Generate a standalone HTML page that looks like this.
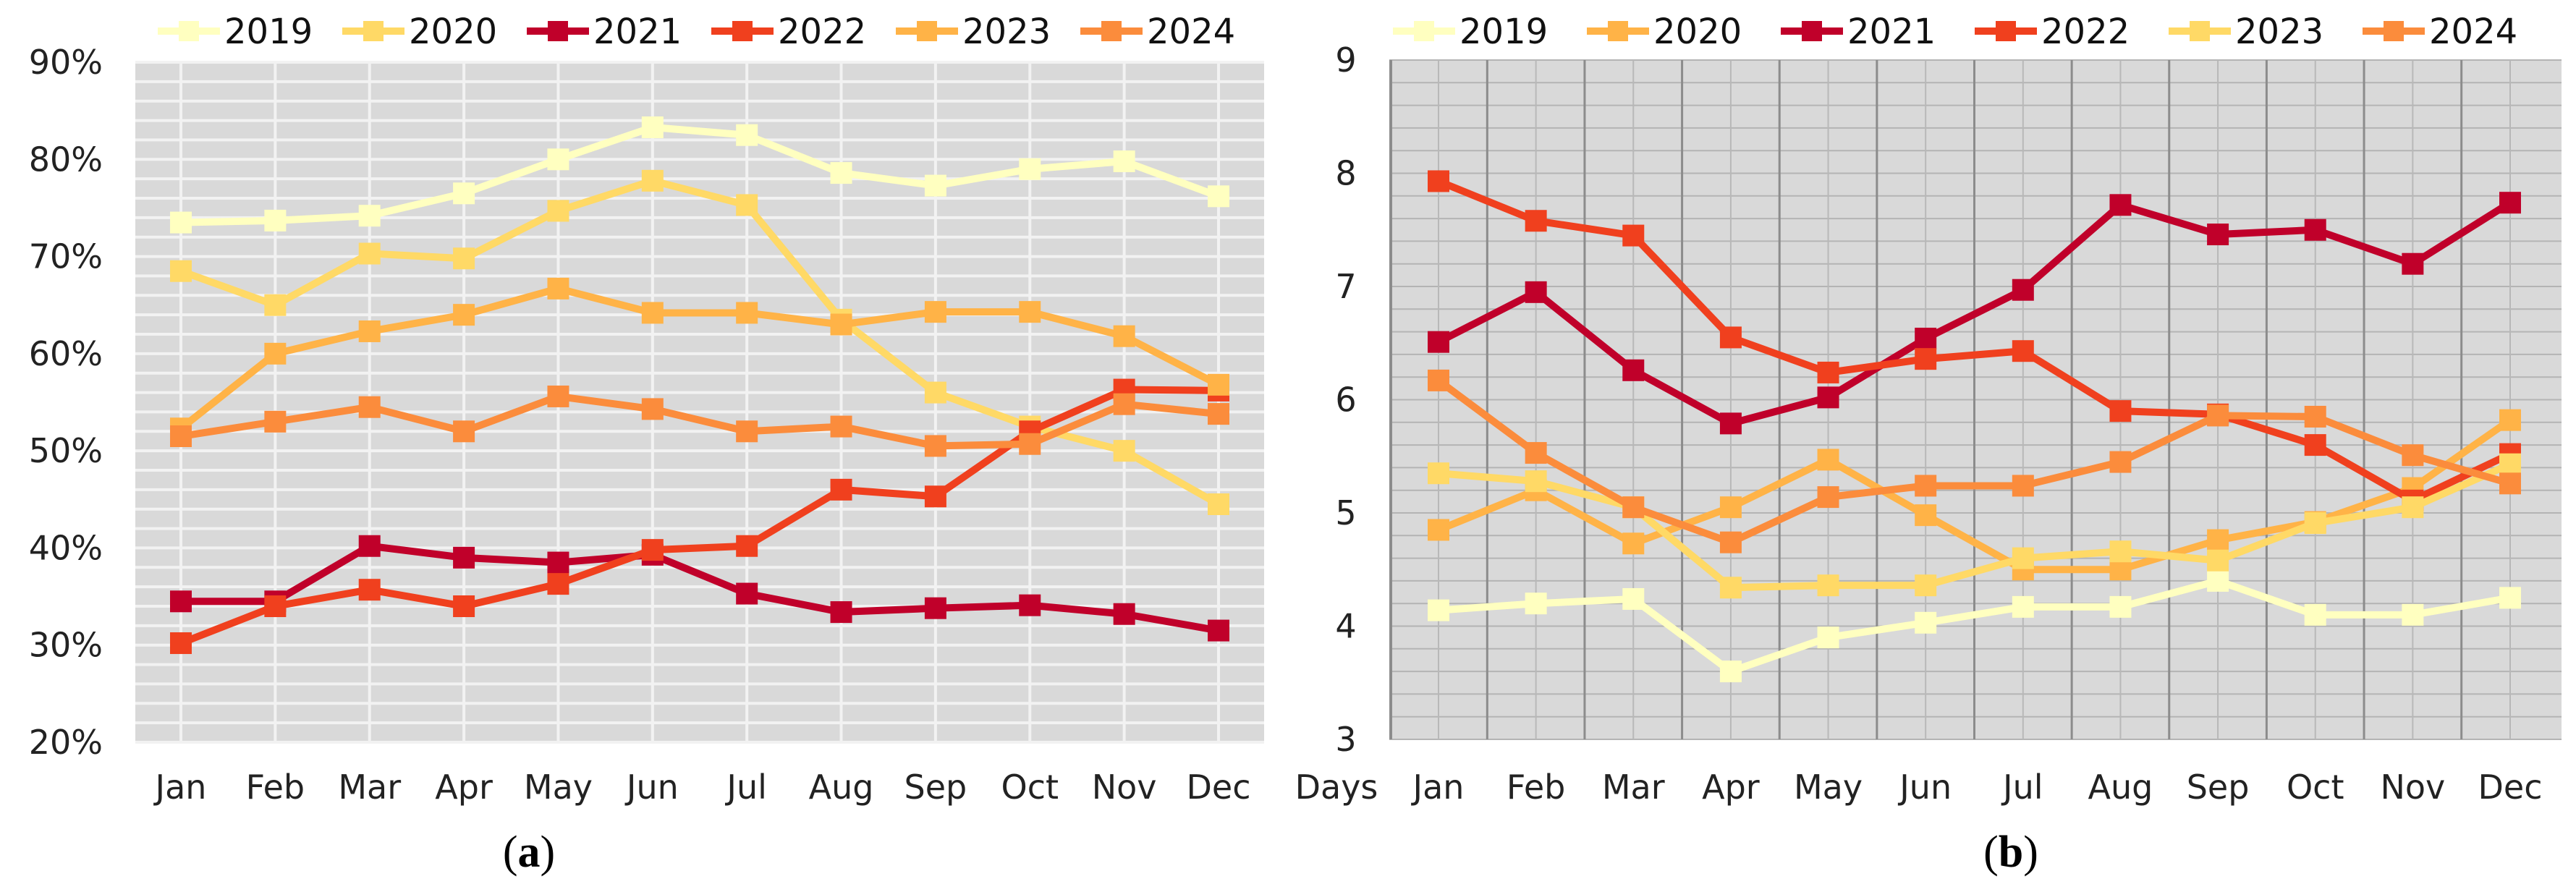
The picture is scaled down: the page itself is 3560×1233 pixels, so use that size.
<!DOCTYPE html>
<html><head><meta charset="utf-8"><style>
html,body{margin:0;padding:0;background:#fff;}
svg{display:block;font-family:"DejaVu Sans","Liberation Sans",sans-serif;}
</style></head><body>
<svg id="chart" width="3560" height="1233" viewBox="0 0 3560 1233" xmlns="http://www.w3.org/2000/svg"></svg>
<script>
const months = ["Jan","Feb","Mar","Apr","May","Jun","Jul","Aug","Sep","Oct","Nov","Dec"];
const years = ["2019","2020","2021","2022","2023","2024"];
const ticksA = [20,30,40,50,60,70,80,90];
const ticksB = [3,4,5,6,7,8,9];
const a2019 = [73.5,73.7,74.2,76.5,80,83.3,82.5,78.6,77.3,79,79.8,76.2];
const a2020 = [68.5,65,70.3,69.8,74.7,77.8,75.3,63.5,56,52.5,50,44.5];
const a2021 = [34.5,34.5,40.2,39,38.5,39.3,35.3,33.4,33.8,34.1,33.2,31.5];
const a2022 = [30.2,34,35.7,34,36.3,39.8,40.2,46,45.3,52,56.3,56.2];
const a2023 = [52.3,60,62.3,64,66.7,64.2,64.2,63,64.3,64.3,61.8,56.8];
const a2024 = [51.5,53,54.5,52,55.6,54.3,52,52.5,50.5,50.7,54.8,53.8];
const b2019 = [4.14,4.2,4.24,3.6,3.9,4.03,4.17,4.17,4.4,4.1,4.1,4.25];
const b2020 = [4.85,5.2,4.73,5.05,5.47,4.98,4.5,4.5,4.76,4.92,5.22,5.82];
const b2021 = [6.51,6.95,6.26,5.79,6.02,6.54,6.97,7.72,7.46,7.5,7.2,7.74];
const b2022 = [7.93,7.58,7.45,6.55,6.24,6.36,6.43,5.9,5.87,5.6,5.11,5.52];
const b2023 = [5.35,5.28,5.05,4.34,4.36,4.36,4.6,4.66,4.58,4.91,5.05,5.43];
const b2024 = [6.17,5.53,5.05,4.74,5.14,5.24,5.24,5.45,5.86,5.85,5.51,5.26];

const NS="http://www.w3.org/2000/svg";
const svg=document.getElementById('chart');
function mk(tag,attrs,parent){const e=document.createElementNS(NS,tag);for(const k in attrs)e.setAttribute(k,attrs[k]);(parent||svg).appendChild(e);return e;}

function drawChart(cfg){
  const g=mk('g',{});
  
  
  const xS=i=>cfg.x0+i*(cfg.x1-cfg.x0)/11;
  const yS=v=>cfg.yb-(v-cfg.vmin)/(cfg.vmax-cfg.vmin)*(cfg.yb-cfg.yt);
  const bg=mk('rect',{x:cfg.pl,y:cfg.yt,width:cfg.pr-cfg.pl,height:cfg.yb-cfg.yt,fill:'#d9d9d9'},g);
  
  
  // horizontal grid
  const steps=Math.round((cfg.vmax-cfg.vmin)/cfg.minor);
  for(let k=0;k<=steps;k++){const v=cfg.vmin+k*cfg.minor;const y=yS(v);
    const l=mk('line',{x1:cfg.pl,x2:cfg.pr,y1:y,y2:y,stroke:cfg.hgrid,'stroke-width':cfg.hw},g);
    
    }
  // vertical grid
  for(let i=0;i<12;i++){
    const l=mk('line',{x1:xS(i),x2:xS(i),y1:cfg.yt,y2:cfg.yb,stroke:cfg.vgrid,'stroke-width':cfg.vw},g);
    
    
    if(cfg.mid && i<11){const xm=(xS(i)+xS(i+1))/2;
      const m=mk('line',{x1:xm,x2:xm,y1:cfg.yt,y2:cfg.yb,stroke:cfg.mid,'stroke-width':3},g);
      
      }
  }
  if(cfg.mid){const m=mk('line',{x1:cfg.pl+2,x2:cfg.pl+2,y1:cfg.yt,y2:cfg.yb,stroke:cfg.mid,'stroke-width':4},g);
    
    }
  // y ticks
  cfg.ticks.forEach(t=>{const tx=mk('text',{x:cfg.tx,y:yS(t)+16,'font-size':46,'text-anchor':cfg.anchor,fill:'#222'},g);
    tx.textContent=cfg.fmt(t);
    
    });
  months.forEach((m,i)=>{const tx=mk('text',{x:xS(i),y:1104,'font-size':46,'text-anchor':'middle',fill:'#222'},g);
    tx.textContent=m;
    
    });
  // series
  cfg.series.forEach((s,si)=>{
    const sg=mk('g',{},g);
    
    
    const pts=s.map((v,i)=>xS(i)+','+yS(v)).join(' ');
    const pl=mk('polyline',{points:pts,fill:'none',stroke:cfg.colors[si],'stroke-width':10,'stroke-linejoin':'round'},sg);
    
    
    s.forEach((v,i)=>{const r=mk('rect',{x:xS(i)-15,y:yS(v)-15,width:30,height:30,fill:cfg.colors[si]},sg);
      
      });
  });
  // legend
  years.forEach((yr,i)=>{const lx=cfg.lx+i*cfg.lsp;
    const lg=mk('g',{},g);
    
    
    mk('line',{x1:lx,x2:lx+86,y1:43,y2:43,stroke:cfg.colors[i],'stroke-width':10},lg);
    mk('rect',{x:lx+29,y:29,width:28,height:28,fill:cfg.colors[i]},lg);
    const t=mk('text',{x:lx+92,y:60,'font-size':48,fill:'#111'},lg);
    t.textContent=yr;});
  const cap=mk('text',{x:cfg.capx,y:1198,'font-size':62,'text-anchor':'middle','font-family':'Liberation Serif, serif',fill:'#000'},g);
  cap.innerHTML='(<tspan font-weight="bold">'+cfg.cap+'</tspan>)';
  
  
  return g;
}
drawChart({name:'chart-a',pl:187,pr:1747,x0:250,x1:1684,yt:86,yb:1026,vmin:20,vmax:90,minor:2,
  hgrid:'#f2f2f2',hw:4,vgrid:'#f2f2f2',vw:4,mid:null,ticks:ticksA,fmt:t=>t+'%',tx:142,anchor:'end',
  series:[a2019,a2020,a2021,a2022,a2023,a2024],
  colors:['#ffffc0','#ffd966','#c0002a','#f0401e','#ffb347','#fb8c3c'],lx:218,lsp:255,capx:731,cap:'a'});
drawChart({name:'chart-b',pl:1920,pr:3540,x0:1988,x1:3469,yt:83,yb:1022,vmin:3,vmax:9,minor:0.2,
  hgrid:'#b4b4b4',hw:2,vgrid:'#b8b8b8',vw:2,mid:'#8c8c8c',ticks:ticksB,fmt:t=>String(t),tx:1860,anchor:'middle',
  series:[b2019,b2020,b2021,b2022,b2023,b2024],
  colors:['#ffffc0','#ffb347','#c0002a','#f0401e','#ffd966','#fb8c3c'],lx:1925,lsp:268,capx:2779,cap:'b'});
const d=mk('text',{x:1847,y:1104,'font-size':46,'text-anchor':'middle',fill:'#222'});
d.textContent='Days';


</script>
</body></html>
